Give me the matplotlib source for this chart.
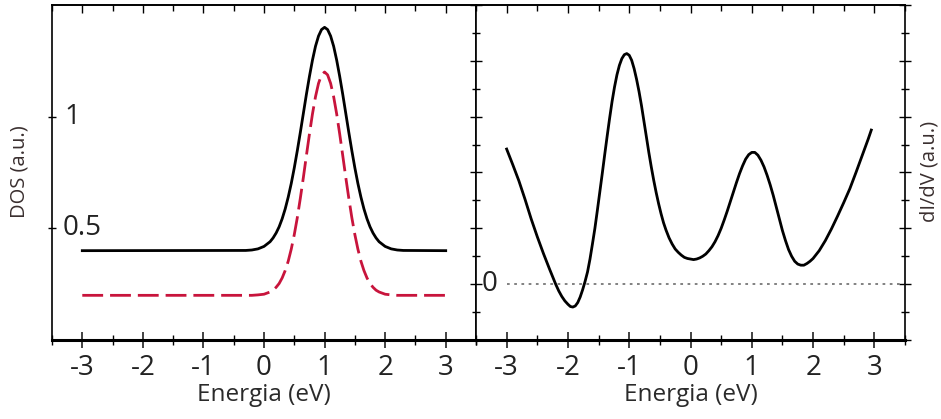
import matplotlib
matplotlib.use("Agg")
import matplotlib.pyplot as plt
from matplotlib.ticker import MultipleLocator

plt.rcParams['font.family'] = ['Open Sans', 'DejaVu Sans']

# left panel: DOS curves
e_dos = [-3.0, -0.3, -0.2, -0.1, 0.0, 0.1, 0.15, 0.2, 0.25, 0.3, 0.35, 0.4, 0.45, 0.5, 0.55, 0.6,
         0.65, 0.7, 0.75, 0.8, 0.85, 0.9, 0.95, 1.0, 1.05, 1.1, 1.15, 1.2, 1.25, 1.3, 1.35, 1.4,
         1.45, 1.5, 1.55, 1.6, 1.65, 1.7, 1.75, 1.8, 1.85, 1.9, 2.0, 2.1, 2.2, 2.3, 3.0]
dos_total = [0.40, 0.401, 0.403, 0.408, 0.419, 0.44, 0.457, 0.479, 0.507, 0.543, 0.587, 0.64, 0.701, 0.771,
             0.848, 0.93, 1.015, 1.10, 1.18, 1.253, 1.315, 1.361, 1.39, 1.40, 1.39, 1.361, 1.315, 1.253,
             1.18, 1.10, 1.015, 0.93, 0.848, 0.771, 0.701, 0.64, 0.587, 0.543, 0.507, 0.479, 0.457,
             0.44, 0.419, 0.408, 0.403, 0.401, 0.40]
dos_part = [0.20, 0.200, 0.200, 0.202, 0.205, 0.215, 0.223, 0.236, 0.253, 0.278, 0.311, 0.353, 0.407, 0.472,
            0.548, 0.635, 0.728, 0.826, 0.922, 1.012, 1.089, 1.149, 1.187, 1.20, 1.187, 1.149, 1.089, 1.012,
            0.922, 0.826, 0.728, 0.635, 0.548, 0.472, 0.407, 0.353, 0.311, 0.278, 0.253, 0.236, 0.223,
            0.215, 0.205, 0.202, 0.200, 0.200, 0.20]

# right panel: dI/dV
e_didv = [-3.00, -2.90, -2.80, -2.70, -2.60, -2.50, -2.40, -2.30, -2.20, -2.15, -2.10, -2.05, -2.00,
          -1.96, -1.92, -1.88, -1.84, -1.80, -1.76, -1.72, -1.68, -1.64, -1.60, -1.56, -1.52, -1.48,
          -1.44, -1.40, -1.36, -1.32, -1.28, -1.24, -1.20, -1.16, -1.12, -1.08, -1.04, -1.00, -0.96,
          -0.92, -0.88, -0.84, -0.80, -0.76, -0.72, -0.68, -0.64, -0.60, -0.56, -0.52, -0.48, -0.44,
          -0.40, -0.35, -0.30, -0.25, -0.20, -0.15, -0.10, -0.05, 0.00, 0.05, 0.10, 0.15, 0.20, 0.25,
          0.30, 0.35, 0.40, 0.45, 0.50, 0.55, 0.60, 0.65, 0.70, 0.75, 0.80, 0.85, 0.90, 0.95, 1.00,
          1.05, 1.10, 1.15, 1.20, 1.25, 1.30, 1.35, 1.40, 1.45, 1.50, 1.55, 1.60, 1.65, 1.70, 1.75,
          1.80, 1.85, 1.90, 1.95, 2.00, 2.10, 2.20, 2.30, 2.40, 2.50, 2.60, 2.70, 2.80, 2.90, 2.95]
didv = [2.42, 2.14, 1.85, 1.52, 1.17, 0.85, 0.55, 0.27, 0.00, -0.12, -0.22, -0.30, -0.36,
        -0.40, -0.41, -0.39, -0.33, -0.23, -0.10, 0.05, 0.22, 0.45, 0.72, 1.00, 1.32, 1.65,
        1.98, 2.32, 2.65, 2.97, 3.27, 3.53, 3.75, 3.92, 4.04, 4.11, 4.13, 4.10, 4.01,
        3.86, 3.67, 3.45, 3.20, 2.92, 2.64, 2.36, 2.10, 1.86, 1.64, 1.44, 1.26, 1.10,
        0.97, 0.83, 0.72, 0.63, 0.57, 0.52, 0.48, 0.46, 0.45, 0.44, 0.45, 0.47, 0.50, 0.54,
        0.60, 0.67, 0.76, 0.87, 1.00, 1.15, 1.31, 1.48, 1.65, 1.82, 1.98, 2.12, 2.24, 2.32, 2.36,
        2.36, 2.31, 2.22, 2.10, 1.95, 1.78, 1.59, 1.38, 1.17, 0.96, 0.78, 0.62, 0.50, 0.41, 0.36,
        0.34, 0.34, 0.37, 0.41, 0.46, 0.60, 0.78, 0.99, 1.22, 1.46, 1.71, 2.00, 2.30, 2.60, 2.76]

xticks = [-3, -2, -1, 0, 1, 2, 3]

fig = plt.figure(figsize=(9.41, 4.19), dpi=100)
ax1 = fig.add_axes([52 / 941, 79 / 419, 424 / 941, 335 / 419])
ax2 = fig.add_axes([476 / 941, 79 / 419, 429 / 941, 335 / 419])

ax1.plot(e_dos, dos_total, color='black', lw=2.0, solid_joinstyle='round')
ax1.plot(e_dos, dos_part, color='#c8143c', lw=2.0, dashes=(7.5, 2.5))
ax1.set_xlim(-3.5, 3.5)
ax1.set_ylim(0, 1.5)

ax2.plot(e_didv, didv, color='black', lw=2.0, solid_joinstyle='round')
ax2.hlines(0, -3, 3.5, colors='#777777', linestyles=(0, (1.5, 2.5)), lw=1.3)
ax2.set_xlim(-3.5, 3.5)
ax2.set_ylim(-1, 5)

for ax in (ax1, ax2):
    ax.set_xticks(xticks)
    ax.set_xticklabels([str(t) for t in xticks])
    ax.xaxis.set_minor_locator(MultipleLocator(0.5))
    ax.tick_params(axis='x', which='major', direction='inout', length=12, width=1.2,
                   labelsize=20, pad=4, colors='#222222')
    ax.tick_params(axis='x', which='minor', direction='inout', length=7, width=1.0)
    ax.spines['bottom'].set_linewidth(2.2)
    for s in ('left', 'right', 'top'):
        ax.spines[s].set_linewidth(1.2)
    ax.set_xlabel('Energia (eV)', fontsize=17.5, labelpad=1, color='#2a2a2a')
    # top ticks, pointing inward only
    top = ax.secondary_xaxis('top')
    top.set_xticks(xticks)
    top.set_xticklabels([])
    top.xaxis.set_minor_locator(MultipleLocator(0.5))
    top.tick_params(axis='x', which='major', direction='in', length=6, width=1.0)
    top.tick_params(axis='x', which='minor', direction='in', length=4, width=1.0)
    top.spines['top'].set_linewidth(1.2)

ax1.set_yticks([0.5, 1])
ax1.set_yticklabels([])
ax1.tick_params(axis='y', direction='inout', length=6, width=1.0, right=False)
ax1.text(12 / 424, 1.0, '1', transform=ax1.get_yaxis_transform(), fontsize=20,
         ha='left', va='center', color='#222222')
ax1.text(11 / 424, 0.5, '0.5', transform=ax1.get_yaxis_transform(), fontsize=20,
         ha='left', va='center', color='#222222')

ax2.yaxis.set_major_locator(MultipleLocator(1))
ax2.yaxis.set_minor_locator(MultipleLocator(0.5))
ax2.set_yticklabels([])
ax2.tick_params(axis='y', which='major', direction='inout', length=8, width=1.0, right=True)
ax2.tick_params(axis='y', which='minor', direction='inout', length=6, width=1.0, right=True)
ax2.text(6 / 429, 0.0, '0', transform=ax2.get_yaxis_transform(), fontsize=20,
         ha='left', va='center', color='#222222')

fig.text(20 / 941, 0.59, 'DOS (a.u.)', rotation=90, ha='center', va='center',
         fontsize=14.5, color='#3a2f2f')
fig.text(930 / 941, 0.59, 'dI/dV (a.u.)', rotation=90, ha='center', va='center',
         fontsize=14.5, color='#3a2f2f')

fig.savefig('out.png', dpi=100)
